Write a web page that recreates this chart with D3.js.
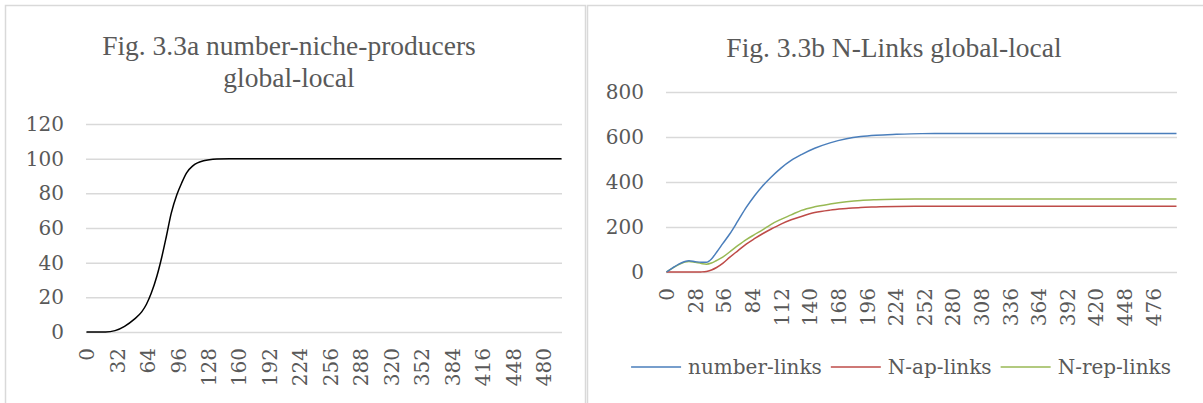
<!DOCTYPE html>
<html>
<head>
<meta charset="utf-8">
<script src="https://cdn.jsdelivr.net/npm/d3@7"></script>
<style>
  html, body { margin: 0; padding: 0; background: #fff; }
  svg { display: block; }
  .tick text { fill: #595959; }
</style>
</head>
<body>
<svg id="chart" width="1203" height="403"></svg>
<script>
// ---- Fig. 3.3a: number of niche producers (global-local) ----
const producerSteps  = [0, 20, 30, 40, 50, 58, 63, 68, 74, 79, 84, 89, 95, 100, 105, 112, 123, 137, 150, 499];
const nicheProducers = [0, 0, 0.8, 3.3, 7.3, 11.6, 16, 22.3, 32.3, 43, 55.4, 68.4, 79.3, 86, 91.7, 96, 98.8, 99.8, 100, 100];
const producerYTicks = [0, 20, 40, 60, 80, 100, 120];
const producerXTicks = [0, 32, 64, 96, 128, 160, 192, 224, 256, 288, 320, 352, 384, 416, 448, 480];

// ---- Fig. 3.3b: number of links (global-local) ----
const linkSteps   = [0, 6, 12, 18, 22, 28, 34, 39, 44, 49, 55, 62, 70, 78, 86, 94, 102, 112, 122, 132, 145, 160, 176, 190, 205, 225, 250, 300, 499];
const numberLinks = [0, 18, 35, 47, 50, 46, 43, 43, 58, 88, 126, 170, 228, 287, 338, 382, 420, 462, 496, 522, 550, 574, 592, 602, 608, 612, 615, 616, 616];
const apLinks     = [0, 0, 0, 0, 0, 0, 0.5, 2, 9, 20, 38, 66, 95, 124, 148, 170, 190, 213, 232, 247, 264, 275, 282, 287, 289, 291, 292, 292, 292];
const repLinks    = [0, 17, 33, 44, 47, 43, 38, 35, 40, 51, 66, 90, 118, 144, 166, 187, 211, 234, 254, 274, 290, 302, 312, 318, 321, 323, 324, 324, 324];
const linkSeriesNames = ["number-links", "N-ap-links", "N-rep-links"];
const linkYTicks = [0, 200, 400, 600, 800];
const linkXTicks = [0, 28, 56, 84, 112, 140, 168, 196, 224, 252, 280, 308, 336, 364, 392, 420, 448, 476];
const stepCount = 500;

const svg = d3.select("#chart");
const TEXT = "#595959", GRID = "#d9d9d9";
const TICK_FONT = "'DejaVu Serif', serif";
const TITLE_FONT = "'Liberation Serif', 'Times New Roman', serif";

// chart frames
svg.append("rect").attr("x", 5.5).attr("y", 5.5).attr("width", 580).attr("height", 420)
  .attr("fill", "#fff").attr("stroke", GRID).attr("stroke-width", 1.5);
svg.append("rect").attr("x", 587.5).attr("y", 5.5).attr("width", 620).attr("height", 420)
  .attr("fill", "#fff").attr("stroke", GRID).attr("stroke-width", 1.5);

function panel(opts) {
  const g = svg.append("g");
  const x = d3.scaleLinear().domain([-0.5, stepCount - 0.5]).range([opts.left, opts.right]);
  const y = d3.scaleLinear().domain(opts.yDomain).range([opts.bottom, opts.top]);

  // value axis with horizontal gridlines
  const yAxis = g.append("g").attr("transform", `translate(${opts.left},0)`)
    .call(d3.axisLeft(y).tickValues(opts.yTicks).tickSize(-(opts.right - opts.left)).tickPadding(22).tickFormat(d3.format("d")));
  yAxis.select(".domain").remove();
  yAxis.selectAll(".tick line").attr("stroke", GRID).attr("stroke-width", 1.5);
  yAxis.selectAll(".tick text").attr("font-family", TICK_FONT).attr("font-size", 20).attr("fill", TEXT);

  // step axis with rotated labels
  const xAxis = g.append("g").attr("transform", `translate(0,${opts.bottom})`)
    .call(d3.axisBottom(x).tickValues(opts.xTicks).tickSize(0).tickFormat(d3.format("d")));
  xAxis.select(".domain").remove();
  xAxis.selectAll(".tick text")
    .attr("font-family", TICK_FONT).attr("font-size", 20).attr("fill", TEXT)
    .attr("transform", "rotate(-90)")
    .attr("text-anchor", "end")
    .attr("x", -16).attr("y", 0).attr("dy", "0.36em");

  // title
  const title = g.append("text").attr("font-family", TITLE_FONT).attr("font-size", 27.5)
    .attr("fill", TEXT).attr("text-anchor", "middle");
  opts.title.forEach((line, i) => {
    title.append("tspan").attr("x", opts.titleX).attr("y", opts.titleY + i * 32).text(line);
  });

  return { g, x, y };
}

const line = (x, y, steps) => d3.line()
  .x((d, i) => x(steps[i]))
  .y(d => y(d))
  .curve(d3.curveMonotoneX);

// left panel
const A = panel({
  left: 86, right: 562, top: 124, bottom: 332, yDomain: [0, 120],
  yTicks: producerYTicks, xTicks: producerXTicks,
  title: ["Fig. 3.3a number-niche-producers", "global-local"], titleX: 289, titleY: 55
});
A.g.append("path").datum(nicheProducers)
  .attr("d", line(A.x, A.y, producerSteps))
  .attr("fill", "none").attr("stroke", "#000").attr("stroke-width", 1.5);

// right panel
const B = panel({
  left: 666, right: 1177, top: 92, bottom: 272, yDomain: [0, 800],
  yTicks: linkYTicks, xTicks: linkXTicks,
  title: ["Fig. 3.3b N-Links global-local"], titleX: 894, titleY: 57
});
const linkSeries = [
  { name: linkSeriesNames[0], values: numberLinks, color: "#4A7EBB" },
  { name: linkSeriesNames[1], values: apLinks,     color: "#BE4B48" },
  { name: linkSeriesNames[2], values: repLinks,    color: "#98B954" }
];
// draw later series first so the blue line sits on top where they overlap
[...linkSeries].reverse().forEach(s => {
  B.g.append("path").datum(s.values)
    .attr("d", line(B.x, B.y, linkSteps))
    .attr("fill", "none").attr("stroke", s.color).attr("stroke-width", 1.5);
});

// legend, centred under the right plot
const legend = svg.append("g");
let cursor = 0;
linkSeries.forEach(s => {
  const item = legend.append("g").attr("transform", `translate(${cursor},0)`);
  item.append("line").attr("x1", 0).attr("x2", 50).attr("y1", 0).attr("y2", 0)
    .attr("stroke", s.color).attr("stroke-width", 1.5);
  const t = item.append("text").attr("x", 57).attr("dy", "0.35em")
    .attr("font-family", TICK_FONT).attr("font-size", 20).attr("fill", TEXT).text(s.name);
  cursor += 57 + t.node().getComputedTextLength() + 9;
});
const legendWidth = cursor - 9;
legend.attr("transform", `translate(${901 - legendWidth / 2},367)`);
</script>
</body>
</html>
